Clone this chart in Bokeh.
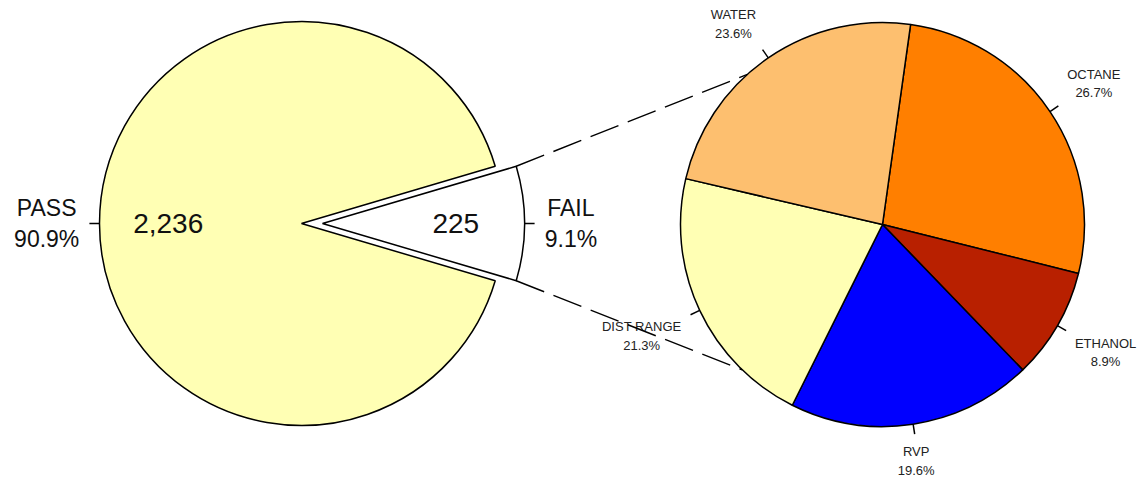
import math
from bokeh.plotting import figure
from bokeh.models import Range1d, ColumnDataSource
from bokeh.embed import file_html
from bokeh.resources import INLINE
from bokeh.core.properties import value

# ---------------- data ----------------
status_labels = ["PASS", "FAIL"]
status_counts = [2236, 225]
status_colors = ["#FFFFB4", "#FFFFFF"]

fail_labels = ["OCTANE", "ETHANOL", "RVP", "DIST RANGE", "WATER"]
fail_pct = [26.7, 8.9, 19.6, 21.3, 23.6]
fail_colors = ["#FF7F00", "#B82000", "#0000FF", "#FFFFB4", "#FDBF6F"]

# ---------------- layout (style) ----------------
W, H = 1138, 477
FONT = "Liberation Sans"
R = 202
LEFT_C = (301, 254)
EXPLODE = 21
RIGHT_C = (882, 253)
RIGHT_START = 82.0
LINK_ANGLES = (132.0, 226.0)

# approximate Arial advance widths (em), used only to centre label lines
CW = {" ": .278, ".": .278, ",": .278, "%": .889, "A": .667, "C": .722, "D": .722,
      "E": .667, "F": .611, "G": .778, "H": .722, "I": .278, "L": .556, "N": .722,
      "O": .778, "P": .667, "R": .722, "S": .667, "T": .611, "V": .667, "W": .944}


def text_w(s, size):
    return max(sum(CW.get(ch, .556) for ch in line) for line in s.split("\n")) * size


p = figure(width=W, height=H, x_range=Range1d(0, W), y_range=Range1d(0, H),
           output_backend="svg", toolbar_location=None, min_border=0,
           x_axis_location=None, y_axis_location=None)
p.grid.visible = False
p.outline_line_color = None
p.background_fill_color = "white"
p.border_fill_color = "white"


def pol(c, r, a):
    return c[0] + r * math.cos(math.radians(a)), c[1] + r * math.sin(math.radians(a))


def place(a, txt, size):
    c, s = math.cos(math.radians(a)), math.sin(math.radians(a))
    w = text_w(txt, size)
    dx = w / 2 if c > 0.2 else (-w / 2 if c < -0.2 else 0.0)
    bl = "middle" if abs(s) < 0.2 else ("bottom" if s > 0 else "top")
    return dx, bl


# ---------------- left pie ----------------
total = sum(status_counts)
fail_span = 360.0 * status_counts[1] / total
centers = [LEFT_C, pol(LEFT_C, EXPLODE, 0.0)]
starts = [fail_span / 2, -fail_span / 2]
ends = [360 - fail_span / 2, fail_span / 2]
mids = [180.0, 0.0]

p.wedge(x=[c[0] for c in centers], y=[c[1] for c in centers], radius=R,
        start_angle=starts, end_angle=ends,
        start_angle_units="deg", end_angle_units="deg",
        direction="anticlock", fill_color=status_colors,
        line_color="black", line_width=1.5)

LSIZE = 23
lx, ly, lt, lo, lb = [], [], [], [], []
tx0, ty0, tx1, ty1 = [], [], [], []
vx, vy, vt = [], [], []
for c, m, lab, cnt in zip(centers, mids, status_labels, status_counts):
    a0 = pol(c, R, m)
    a1 = pol(c, R * 1.05, m)
    tx0.append(a0[0]); ty0.append(a0[1]); tx1.append(a1[0]); ty1.append(a1[1])
    pt = pol(c, R * 1.1, m)
    txt = f"{lab}\n{100 * cnt / total:.1f}%"
    dx, bl = place(m, txt, LSIZE)
    lx.append(pt[0]); ly.append(pt[1]); lt.append(txt); lo.append(dx); lb.append(bl)
    vp = pol(c, R * 0.66, m)
    vx.append(vp[0]); vy.append(vp[1]); vt.append(f"{cnt:,}")

p.segment(x0=tx0, y0=ty0, x1=tx1, y1=ty1, line_color="black", line_width=1.5)
src_l = ColumnDataSource(dict(x=lx, y=ly, t=lt, o=lo, b=lb))
p.text(x="x", y="y", text="t", x_offset="o", text_align="center", text_baseline="b",
       source=src_l, text_font=value(FONT), text_font_size=f"{LSIZE}px",
       text_color="#111111", text_line_height=1.2)
p.text(x=vx, y=vy, text=vt, text_align="center", text_baseline="middle",
       text_font=value(FONT), text_font_size="28px", text_color="#111111")

# ---------------- right pie ----------------
ptot = sum(fail_pct)
a = RIGHT_START
rs, re, rm = [], [], []
for v in fail_pct:
    span = 360.0 * v / ptot
    rs.append(a - span); re.append(a); rm.append(a - span / 2)
    a -= span

p.wedge(x=RIGHT_C[0], y=RIGHT_C[1], radius=R, start_angle=rs, end_angle=re,
        start_angle_units="deg", end_angle_units="deg",
        direction="anticlock", fill_color=fail_colors,
        line_color="black", line_width=1.5)

RSIZE = 13
rx, ry, rt, ro, rb = [], [], [], [], []
sx0, sy0, sx1, sy1 = [], [], [], []
for m, lab, v in zip(rm, fail_labels, fail_pct):
    a0 = pol(RIGHT_C, R, m)
    a1 = pol(RIGHT_C, R * 1.05, m)
    sx0.append(a0[0]); sy0.append(a0[1]); sx1.append(a1[0]); sy1.append(a1[1])
    pt = pol(RIGHT_C, R * 1.1, m)
    txt = f"{lab}\n{v:.1f}%"
    dx, bl = place(m, txt, RSIZE)
    rx.append(pt[0]); ry.append(pt[1]); rt.append(txt); ro.append(dx); rb.append(bl)

p.segment(x0=sx0, y0=sy0, x1=sx1, y1=sy1, line_color="black", line_width=1.5)
src_r = ColumnDataSource(dict(x=rx, y=ry, t=rt, o=ro, b=rb))
p.text(x="x", y="y", text="t", x_offset="o", text_align="center", text_baseline="b",
       source=src_r, text_font=value(FONT), text_font_size=f"{RSIZE}px",
       text_color="#222222", text_line_height=1.25)

# ---------------- connector lines ----------------
fc = centers[1]
e_top = pol(fc, R, fail_span / 2)
e_bot = pol(fc, R, -fail_span / 2)
k_top = pol(RIGHT_C, R, LINK_ANGLES[0])
k_bot = pol(RIGHT_C, R, LINK_ANGLES[1])
p.segment(x0=[e_top[0], e_bot[0]], y0=[e_top[1], e_bot[1]],
          x1=[k_top[0], k_bot[0]], y1=[k_top[1], k_bot[1]],
          line_color="black", line_width=1.4, line_dash="30 10")

open("out.html", "w").write(file_html(p, INLINE))
